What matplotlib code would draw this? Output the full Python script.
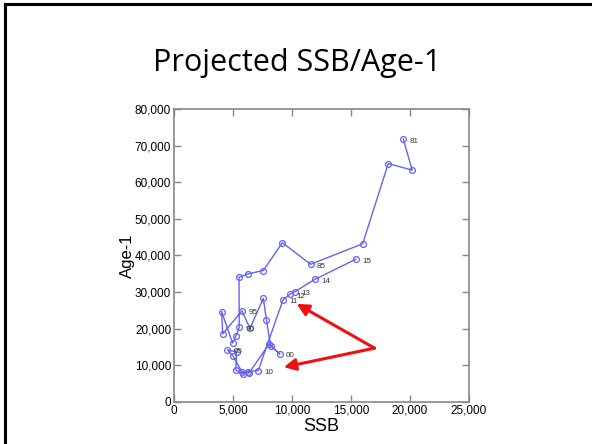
import matplotlib
matplotlib.use('Agg')
import matplotlib.pyplot as plt
from matplotlib.ticker import FuncFormatter
from matplotlib.lines import Line2D

# projected SSB vs Age-1 recruitment, 1981-2015
years = ['81', '82', '83', '84', '85', '86', '87', '88', '89', '90',
         '91', '92', '93', '94', '95', '96', '97', '98', '99', '00',
         '01', '02', '03', '04', '05', '06', '07', '08', '09', '10',
         '11', '12', '13', '14', '15']
ssb = [19430, 20190, 18160, 15990, 11580, 9180, 7570, 6300, 5510, 5530,
       5250, 4960, 4040, 4130, 5760, 6440, 7570, 7840, 8180, 8980,
       8050, 6360, 5760, 5000, 4530, 5300, 5250, 5850, 6310, 7140,
       9240, 9830, 10230, 11950, 15420]
age1 = [71800, 63300, 65100, 43200, 37600, 43500, 35900, 35000, 34100, 20400,
        18000, 16100, 24700, 18600, 24900, 20100, 28300, 22300, 15400, 13100,
        15800, 7900, 8200, 12600, 14200, 13700, 8700, 7700, 8300, 8600,
        27900, 29400, 30100, 33500, 39000]
labelled = ['81', '85', '90', '95', '00', '05', '10', '11', '12', '13', '14', '15']

# arrow start and tips (data coords)
arrow_from = (17000, 14700)
arrow_tips = [(10400, 26800), (9300, 9500)]

fig = plt.figure(figsize=(5.92, 4.44), dpi=100)

# slide border
fig.add_artist(Line2D([0.009, 0.009], [0.0, 0.991], color='black', lw=2.2, transform=fig.transFigure))
fig.add_artist(Line2D([0.009, 1.0], [0.991, 0.991], color='black', lw=2.2, transform=fig.transFigure))

fig.text(0.502, 0.857, 'Projected SSB/Age-1', ha='center', va='center', fontsize=22,
         family=['Open Sans', 'DejaVu Sans'])

ax = fig.add_axes([0.2939, 0.0946, 0.4983, 0.6599])
blue = '#6464f0'
ax.plot(ssb, age1, color=blue, lw=1.0, marker='o', ms=4.2, mfc='none', mec=blue, mew=0.9)
for yr, x, y in zip(years, ssb, age1):
    if yr in labelled:
        ax.annotate(yr, (x, y), xytext=(4.5, -2.5), textcoords='offset points', fontsize=5.8,
                    color='#333333', family=['Liberation Sans', 'DejaVu Sans'])

for tip in arrow_tips:
    ax.annotate('', xy=tip, xytext=arrow_from,
                arrowprops=dict(arrowstyle='-|>,head_length=0.7,head_width=0.35',
                                color='#ee1111', lw=2.2, shrinkA=0, shrinkB=0))

ax.set_xlim(0, 25000)
ax.set_ylim(0, 80000)
ax.set_xticks(range(0, 25001, 5000))
ax.set_yticks(range(0, 80001, 10000))
fmt = FuncFormatter(lambda v, p: f'{int(v):,}')
ax.xaxis.set_major_formatter(fmt)
ax.yaxis.set_major_formatter(fmt)
ax.tick_params(direction='in', top=True, right=True, length=5, width=1, color='#888888',
               labelsize=8.5, pad=2)
for lab in ax.get_xticklabels() + ax.get_yticklabels():
    lab.set_family(['Liberation Sans', 'DejaVu Sans'])
for sp in ax.spines.values():
    sp.set_color('#888888')
    sp.set_linewidth(1.2)

ax.set_xlabel('SSB', fontsize=13, labelpad=1, family=['Liberation Sans', 'DejaVu Sans'])
ax.set_ylabel('Age-1', fontsize=12, labelpad=0, family=['Liberation Sans', 'DejaVu Sans'])

fig.savefig('out.png', dpi=100)
